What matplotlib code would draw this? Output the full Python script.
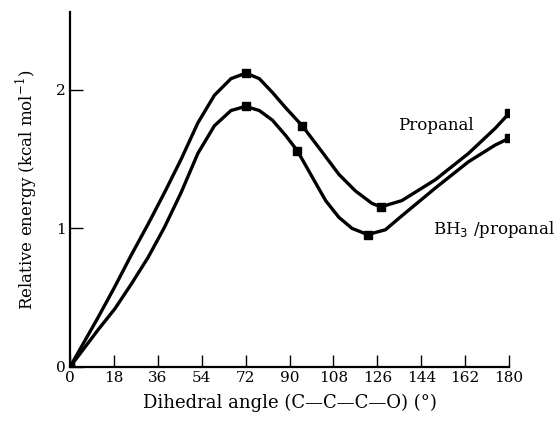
import numpy as np
import matplotlib
matplotlib.use("Agg")
import matplotlib.pyplot as plt

plt.rcParams['font.family'] = ['DejaVu Serif']

# curve readings (dihedral angle in degrees, relative energy in kcal/mol)
propanal_x = [0, 11.6, 18.4, 25.2, 32, 38.8, 45.6, 52.4, 59.2, 66, 72.1, 77.6, 83, 88.4,
              95.2, 103.4, 110.2, 117, 123.8, 127.4, 136, 149.7, 163.3, 174.2, 180]
propanal_y = [0, 0.36, 0.58, 0.81, 1.03, 1.26, 1.50, 1.76, 1.96, 2.08, 2.12, 2.08, 1.98, 1.87,
              1.74, 1.55, 1.39, 1.27, 1.18, 1.155, 1.20, 1.35, 1.54, 1.72, 1.83]
bh3_x = [0, 11.6, 18.4, 25.2, 32, 38.8, 45.6, 52.4, 59.2, 66, 72, 77.6, 83, 88.4,
         93.2, 99.3, 104.8, 110.2, 115.6, 122, 129.3, 136, 149.7, 163.3, 174.2, 180]
bh3_y = [0, 0.27, 0.42, 0.60, 0.79, 1.01, 1.26, 1.54, 1.74, 1.85, 1.88, 1.85, 1.78, 1.67,
         1.56, 1.37, 1.20, 1.08, 1.00, 0.955, 0.99, 1.09, 1.29, 1.48, 1.60, 1.65]

# marked points
propanal_mx = [0, 72.1, 95.2, 127.4, 180]
propanal_my = [0, 2.12, 1.74, 1.155, 1.83]
bh3_mx = [0, 72, 93.2, 122, 180]
bh3_my = [0, 1.88, 1.56, 0.955, 1.65]

xticks = list(range(0, 181, 18))
yticks = [0, 1, 2]

fig = plt.figure(figsize=(5.58, 4.23), dpi=100)
ax = fig.add_axes([0.1254, 0.1324, 0.787, 0.839])

ax.plot(propanal_x, propanal_y, color='black', lw=2.4, solid_joinstyle='round', solid_capstyle='round')
ax.plot(bh3_x, bh3_y, color='black', lw=2.4, solid_joinstyle='round', solid_capstyle='round')
ax.plot(propanal_mx, propanal_my, ls='none', marker='s', ms=5.5, color='black')
ax.plot(bh3_mx, bh3_my, ls='none', marker='s', ms=5.5, color='black')

ax.text(134.3, 1.74, 'Propanal', fontsize=12, va='center', ha='left')
ax.text(148.6, 0.99, r'BH$_3$ /propanal', fontsize=12, va='center', ha='left')

ax.set_xlim(0, 180)
ax.set_ylim(0, 2.56)
ax.set_xticks(xticks)
ax.set_yticks(yticks)
ax.tick_params(direction='in', length=9, width=1, labelsize=11, pad=3)
for s in ['top', 'right']:
    ax.spines[s].set_visible(False)
ax.spines['left'].set_linewidth(1.6)
ax.spines['bottom'].set_linewidth(1.6)

ax.set_xlabel('Dihedral angle (C—C—C—O) (°)', fontsize=13, labelpad=6)
ax.set_ylabel(r'Relative energy (kcal mol$^{\mathregular{-1}}$)', fontsize=12, labelpad=12)

fig.savefig('out.png', dpi=100)
